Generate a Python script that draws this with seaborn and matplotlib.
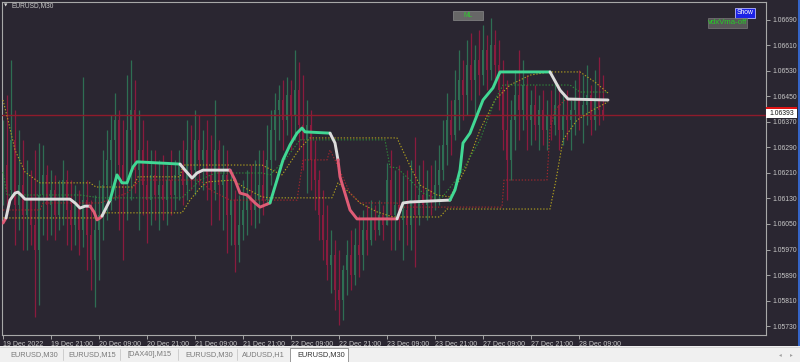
import numpy as np
import pandas as pd
import matplotlib
matplotlib.use('Agg')
import matplotlib.pyplot as plt
from matplotlib.patches import Rectangle
import seaborn as sns

BG = '#2a2631'
sns.set_theme(style='dark', rc={'axes.facecolor': BG, 'figure.facecolor': BG})
plt.rcParams['font.family'] = ['Liberation Sans', 'DejaVu Sans']

# ---------------- data (prices stored as points above 1.05000) ----------------
BASE = 1.05
PT = 1e-5
symbol = 'EURUSD,M30'
bar_idx = list(range(0, 302, 2))  # every other M30 bar

opens = [1172,1235,1157,1314,1110,1172,1078,1125,1047,968,
         1141,1204,1110,1157,1078,1125,1188,1094,1047,1110,
         1031,1125,1016,937,1031,1078,1172,1251,1314,1376,
         1235,1188,1345,1408,1219,1282,1172,1125,1204,1141,
         1172,1125,1188,1141,1204,1235,1172,1282,1219,1314,
         1251,1282,1204,1157,1282,1172,1204,1078,1125,984,
         1047,1094,1141,1094,1125,1172,1125,1251,1345,1408,
         1439,1376,1455,1392,1470,1361,1314,1361,1251,1188,
         1078,1000,921,953,843,812,906,953,890,984,
         953,1031,1000,1063,1031,1078,1047,1188,1078,1110,
         1063,1094,1047,1125,1078,1141,1110,1157,1125,1172,
         1219,1298,1376,1329,1439,1502,1455,1549,1502,1565,
         1517,1596,1533,1612,1549,1470,1345,1251,1376,1455,
         1408,1486,1376,1423,1361,1408,1345,1392,1361,1423,
         1345,1392,1376,1408,1439,1392,1423,1455,1376,1439,
         1408]
closes = [1235,1157,1314,1110,1172,1078,1125,1047,968,1141,
          1204,1110,1157,1078,1125,1188,1094,1047,1110,1031,
          1125,1016,937,1031,1078,1172,1251,1314,1376,1235,
          1188,1345,1408,1219,1282,1172,1125,1204,1141,1172,
          1125,1188,1141,1204,1235,1172,1282,1219,1314,1251,
          1282,1204,1157,1282,1172,1204,1078,1125,984,1047,
          1094,1141,1094,1125,1172,1125,1251,1345,1408,1439,
          1376,1455,1392,1470,1361,1314,1361,1251,1188,1078,
          1000,921,953,843,812,906,953,890,984,953,
          1031,1000,1063,1031,1078,1047,1188,1078,1110,1063,
          1094,1047,1125,1078,1141,1110,1157,1125,1172,1219,
          1298,1376,1329,1439,1502,1455,1549,1502,1565,1517,
          1596,1533,1612,1549,1470,1345,1251,1376,1455,1408,
          1486,1376,1423,1361,1408,1345,1392,1361,1423,1345,
          1392,1376,1408,1439,1392,1423,1455,1376,1439,1408,
          1393]
highs = [1376,1455,1565,1408,1345,1314,1251,1219,1282,1304,
         1298,1235,1219,1204,1188,1251,1219,1188,1172,1157,
         1511,1188,1125,1141,1188,1282,1345,1392,1461,1408,
         1376,1517,1565,1502,1408,1376,1314,1282,1282,1251,
         1267,1235,1282,1251,1282,1314,1376,1361,1408,1392,
         1345,1376,1329,1439,1314,1298,1282,1219,1157,1141,
         1188,1219,1235,1251,1282,1282,1361,1408,1461,1486,
         1502,1511,1502,1596,1558,1517,1439,1408,1314,1219,
         1157,1110,1031,1000,968,921,1000,1031,1037,1078,
         1094,1110,1125,1110,1125,1110,1241,1282,1219,1235,
         1204,1219,1251,1323,1235,1251,1219,1235,1251,1298,
         1376,1461,1439,1533,1596,1565,1627,1649,1612,1659,
         1674,1643,1696,1659,1627,1565,1502,1439,1533,1596,
         1565,1517,1470,1486,1455,1470,1439,1470,1502,1486,
         1455,1470,1439,1502,1533,1517,1549,1486,1533,1574,
         1517]
lows = [1110,1078,1125,984,1031,968,968,984,758,796,
        1016,1000,1016,1000,1031,1047,984,968,984,953,
        978,906,843,790,874,1000,1063,1094,1125,1031,
        937,1063,1125,1147,1031,1078,990,1047,1063,1031,
        1063,1047,1078,1094,1125,1110,1125,1157,1141,1172,
        1157,1125,1047,1125,1063,1031,959,984,899,931,
        1000,1016,1047,1037,1053,1078,1110,1172,1251,1314,
        1282,1329,1282,1314,1282,1219,1147,1157,1094,1000,
        937,874,834,780,733,749,827,843,859,884,
        906,953,984,1000,1016,1000,1047,968,968,1000,
        937,984,968,915,1047,1078,1063,1078,1094,1110,
        1188,1235,1267,1314,1345,1376,1392,1439,1386,1455,
        1486,1470,1502,1492,1408,1282,1125,1188,1282,1314,
        1345,1282,1298,1314,1282,1298,1282,1314,1329,1282,
        1298,1314,1282,1329,1345,1304,1361,1329,1345,1361,
        1376]

current_price = 1.06393

# thick VMA line: bar, points, state (u=up, f=flat, d=down)
vma_bar = [0,1.5,3.5,6,7.5,9.5,11,33.5,36,38.5,41,43.5,45.5,47,48.5,49.5,53.5,57,59.5,62,65,67,
           88.5,91,94.5,97,100,113.5,116,118.5,122,126,128.5,133.5,137,140,143.5,147,149.5,151,
           163.5,166,167.5,168.5,173.5,177,197,200,203.5,223.5,226,228.5,230,233.5,240,245,248.5,
           273.5,278.5,282.5,302.5]
vma_pts = [1053,1069,1125,1147,1150,1138,1128,1128,1116,1100,1106,1106,1088,1063,1069,1075,1125,1204,1179,1179,1229,1245,
           1238,1219,1194,1210,1219,1219,1188,1147,1141,1116,1103,1116,1188,1251,1298,1335,1351,1339,
           1335,1304,1251,1198,1094,1066,1066,1116,1119,1125,1157,1219,1304,1335,1439,1477,1527,
           1527,1470,1442,1439]
vma_state = ['d','d','f','f','f','f','f','f','f','f','f','f','d','d','d','d','f','u','u','u','u','u',
             'u','f','f','f','f','f','d','d','d','d','d','d','u','u','u','u','u','u',
             'u','f','f','d','d','d','d','f','f','f','u','u','u','u','u','u','u',
             'u','f','f','f']

# dotted channel lines
yel_up_bar = [0,2.5,6,11,18.5,43.5,46.5,65,67.5,88.5,90,129.5,134.5,139.5,144.5,148.5,153.5,197,201,204.5,
              208.5,217,223.5,231,238.5,246,253.5,263.5,273.5,288.5,296,302.5]
yel_up_pts = [1439,1376,1282,1213,1179,1179,1166,1166,1198,1198,1235,1235,1219,1204,1251,1288,1320,1320,1266,1219,
              1172,1141,1135,1219,1345,1439,1486,1517,1527,1527,1495,1461]
yel_lo_bar = [0,48.5,49.5,89.5,93.5,98.5,102,115,121,129.5,133.5,164.5,167.5,173.5,178.5,187,195,218.5,222,
              273.5,276.5,280,287,295,302.5]
yel_lo_pts = [1069,1069,1085,1085,1125,1163,1182,1188,1163,1135,1132,1132,1179,1147,1116,1088,1072,1072,1097,
              1097,1188,1314,1376,1408,1433]
grn_bar = [0,2,38.5,48.5,89.5,98.5,106,129.5,133.5,141,148.5,191,193.5,197,203.5,210,218.5,228.5,238.5,246,
           250,283.5,288.5,302.5]
grn_pts = [1213,1141,1141,1132,1132,1188,1210,1210,1204,1251,1314,1314,1229,1226,1188,1147,1125,1204,1314,1439,
           1486,1486,1464,1464]
red_bar = [0,18.5,20,48.5,62,68.5,98.5,103.5,113.5,147,150,162,163.5,166,173.5,178.5,197,198.5,249.5,250.5,
           272,273.5,276,281,302.5]
red_pts = [1094,1094,1116,1116,1147,1188,1188,1157,1125,1125,1251,1251,1282,1251,1147,1116,1116,1103,1103,1188,
           1188,1345,1408,1439,1439]

price_ticks = [1.05730, 1.05810, 1.05890, 1.05970, 1.06050, 1.06130, 1.06210,
               1.06290, 1.06370, 1.06450, 1.06530, 1.06610, 1.06690]
time_tick_bars = [0, 24, 48, 72, 96, 120, 144, 168, 192, 216, 240, 264, 288]
time_labels = ['19 Dec 2022', '19 Dec 21:00', '20 Dec 09:00', '20 Dec 21:00', '21 Dec 09:00',
               '21 Dec 21:00', '22 Dec 09:00', '22 Dec 21:00', '23 Dec 09:00', '23 Dec 21:00',
               '27 Dec 09:00', '27 Dec 21:00', '28 Dec 09:00']
tabs = ['EURUSD,M30', 'EURUSD,M15', '[DAX40],M15', 'EURUSD,M30', 'AUDUSD,H1', 'EURUSD,M30']

def px(v):
    return [BASE + p * PT for p in v]

# ---------------- figure ----------------
W, H = 800, 362
fig = plt.figure(figsize=(W / 100, H / 100), dpi=100)
fig.patch.set_facecolor(BG)
ax = fig.add_axes([2 / W, 27 / H, 764 / W, 333 / H])
ax.set_facecolor(BG)
ax.set_xlim(-0.5, 381.5)
ax.set_ylim(1.057018, 1.067464)

GREEN_C = '#2e6e53'
RED_C = '#8a1b3e'
o, h, l, c = px(opens), px(highs), px(lows), px(closes)
cols = [GREEN_C if cc >= oo else RED_C for oo, cc in zip(o, c)]
ax.vlines(bar_idx, l, h, colors=cols, linewidth=0.9, zorder=2)
bottoms = [min(a, b) for a, b in zip(o, c)]
heights = [max(abs(b - a), 0.000012) for a, b in zip(o, c)]
ax.bar(bar_idx, heights, bottom=bottoms, width=1.4, color=cols, linewidth=0, zorder=2)

ax.axhline(current_price, color='#8e1b2b', lw=1.0, zorder=3)

dot = (0, (1.2, 1.6))
for xs, ys, col in [(yel_up_bar, yel_up_pts, '#b3a21f'), (yel_lo_bar, yel_lo_pts, '#b3a21f'),
                    (grn_bar, grn_pts, '#2f8c3a'), (red_bar, red_pts, '#a6282e')]:
    ax.plot(xs, px(ys), color=col, lw=0.8, linestyle=dot, zorder=4)

state_col = {'u': '#41d894', 'f': '#dcdcdc', 'd': '#e05c76'}
vp = px(vma_pts)
runs = []
start = 0
for i in range(1, len(vma_bar)):
    if i == len(vma_bar) - 1 or vma_state[i + 1] != vma_state[i]:
        runs.append((start, i, vma_state[i]))
        start = i
for s, e, st in runs:
    seg = pd.DataFrame({'bar': vma_bar[s:e + 1], 'price': vp[s:e + 1]})
    sns.lineplot(data=seg, x='bar', y='price', sort=False, estimator=None, ax=ax,
                 color=state_col[st], lw=2.1, zorder=5, solid_capstyle='round', solid_joinstyle='round')

ax.set_xlabel('')
ax.set_ylabel('')
ax.grid(False)
for sp in ax.spines.values():
    sp.set_color('#a8a8a8')
    sp.set_linewidth(0.8)
ax.yaxis.tick_right()
ax.set_yticks(price_ticks)
ax.set_yticklabels([f'{v:.5f}' for v in price_ticks])
ax.set_xticks(time_tick_bars)
ax.set_xticklabels(time_labels)
for lab in ax.get_xticklabels():
    lab.set_ha('left')
ax.tick_params(axis='y', which='both', right=True, left=False, length=3, width=0.6, pad=1.5,
               color='#b8b8b8', labelcolor='#c8c8c8', labelsize=4.9)
ax.tick_params(axis='x', which='both', bottom=True, length=3, width=0.6, pad=1.5,
               color='#b8b8b8', labelcolor='#c8c8c8', labelsize=5.0)

# ---------------- UI overlay (pixel coordinates) ----------------
ui = fig.add_axes([0, 0, 1, 1], zorder=10)
ui.set_xlim(0, W)
ui.set_ylim(H, 0)
ui.axis('off')
ui.patch.set_alpha(0)

# tab bar
ui.add_patch(Rectangle((0, 346), W, 16, fc='#f0f0f0', ec='none'))
ui.plot([0, W], [346.5, 346.5], color='#d4d4d4', lw=0.6)
tab_x = [10, 68, 127, 185, 242, 297]
for i, (tx, t) in enumerate(zip(tab_x, tabs)):
    active = i == len(tabs) - 1
    if active:
        ui.add_patch(Rectangle((290, 347.5), 58, 14, fc='white', ec='#8a8a8a', lw=0.6))
    ui.text(tx, 355, t, fontsize=5.3, color='#333333' if active else '#7a7a7a', va='center', ha='left')
for sx in [63, 120, 178, 237]:
    ui.plot([sx, sx], [349, 360], color='#c8c8c8', lw=0.6)
ui.text(780, 355, '\u25c2', fontsize=4, color='#a0a0a0', va='center', ha='center', family='DejaVu Sans')
ui.text(791, 355, '\u25b8', fontsize=4, color='#a0a0a0', va='center', ha='center', family='DejaVu Sans')

# window border on the right
ui.add_patch(Rectangle((797.5, 0), 2.5, 346, fc='#3565c8', ec='none'))

# title
ui.text(4, 5.5, '\u25bc', fontsize=3.2, color='#d8d8d8', va='center', ha='left', family='DejaVu Sans')
ui.text(12, 5.5, symbol, fontsize=4.8, color='#c8c8c8', va='center', ha='left')

# buttons
ui.add_patch(Rectangle((735, 8), 20, 10, fc='#1c22e6', ec='#b8b8ff', lw=0.6))
ui.text(745, 13, 'Show', fontsize=4.9, color='white', va='center', ha='center')
ui.add_patch(Rectangle((708, 18), 39, 10, fc='#575757', ec='#7a7a7a', lw=0.5))
ui.text(727.5, 23, 'vdxVma-off', fontsize=5.6, color='#25d025', va='center', ha='center')
ui.add_patch(Rectangle((453, 11), 30, 9, fc='#676767', ec='#8a8a8a', lw=0.5))
ui.text(468, 15.5, 'ML', fontsize=4.8, color='#30c830', va='center', ha='center')

# current price label
ui.add_patch(Rectangle((766, 108), 31, 10, fc='white', ec='none'))
ui.add_patch(Rectangle((766, 107), 31, 2, fc='#e01515', ec='none'))
ui.text(781.5, 113.5, f'{current_price:.5f}', fontsize=4.9, color='#101010', va='center', ha='center')

fig.savefig('out.png', dpi=100, facecolor=BG)
